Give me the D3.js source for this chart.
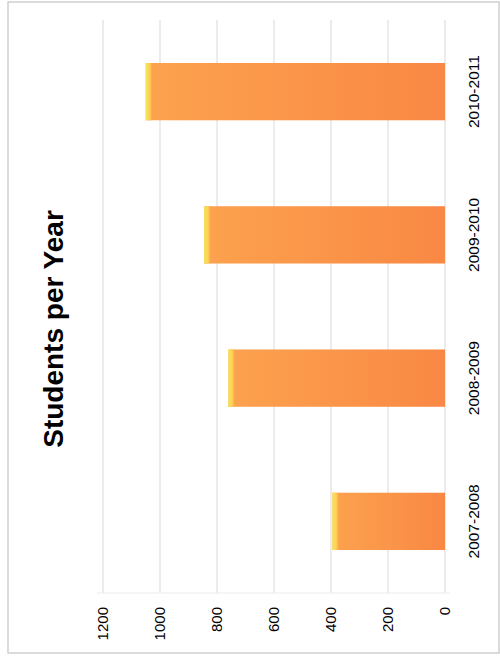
<!DOCTYPE html>
<html>
<head>
<meta charset="utf-8">
<script src="https://cdn.jsdelivr.net/npm/d3@7"></script>
<style>
  body { margin: 0; background: #fff; }
  svg { display: block; }
  text { font-family: "Liberation Sans", Arial, sans-serif; fill: #000; }
</style>
</head>
<body>
<svg id="chart" width="500" height="659"></svg>
<script>
var categories = ["2007-2008", "2008-2009", "2009-2010", "2010-2011"];
var students = [395, 760, 845, 1050];
var tickValues = [0, 200, 400, 600, 800, 1000, 1200];

var svg = d3.select("#chart");

// outer frame of the scanned chart
svg.append("rect")
    .attr("x", 8).attr("y", 2)
    .attr("width", 491).attr("height", 651)
    .attr("fill", "none")
    .attr("stroke", "#cfcfcf")
    .attr("stroke-width", 1.5);

// value axis runs right -> left (chart is rotated)
var x = d3.scaleLinear().domain([0, 1200]).range([445, 103]);
var y = d3.scaleBand().domain(categories).range([593, 20])
    .paddingInner(0.6).paddingOuter(0.3);

var defs = svg.append("defs");
var grad = defs.append("linearGradient").attr("id", "barGrad")
    .attr("x1", "0%").attr("x2", "100%").attr("y1", "0%").attr("y2", "0%");
grad.append("stop").attr("offset", "0%").attr("stop-color", "#fca24e");
grad.append("stop").attr("offset", "100%").attr("stop-color", "#f98844");

var tip = defs.append("linearGradient").attr("id", "tipGrad")
    .attr("x1", "0%").attr("x2", "100%");
tip.append("stop").attr("offset", "0%").attr("stop-color", "#f6e45c");
tip.append("stop").attr("offset", "60%").attr("stop-color", "#f9d452");
tip.append("stop").attr("offset", "100%").attr("stop-color", "#fcae4e");

// gridlines
svg.append("g").selectAll("line")
    .data(tickValues)
    .enter().append("line")
    .attr("x1", function(d) { return x(d); })
    .attr("x2", function(d) { return x(d); })
    .attr("y1", 20)
    .attr("y2", 593)
    .attr("stroke", "#d9d9d9")
    .attr("stroke-width", 1);

svg.append("line")
    .attr("x1", 97).attr("x2", 450)
    .attr("y1", 593).attr("y2", 593)
    .attr("stroke", "#ececec");

// bars
var bars = svg.append("g").selectAll("g")
    .data(students)
    .enter().append("g");

bars.append("rect")
    .attr("x", function(d) { return x(d); })
    .attr("y", function(d, i) { return y(categories[i]); })
    .attr("width", function(d) { return x(0) - x(d); })
    .attr("height", y.bandwidth())
    .attr("fill", "url(#barGrad)");

bars.append("rect")
    .attr("x", function(d) { return x(d); })
    .attr("y", function(d, i) { return y(categories[i]); })
    .attr("width", 6)
    .attr("height", y.bandwidth())
    .attr("fill", "url(#tipGrad)");

// value tick labels
svg.append("g").selectAll("text")
    .data(tickValues)
    .enter().append("text")
    .attr("transform", function(d) { return "translate(" + x(d) + ",607) rotate(-90)"; })
    .attr("text-anchor", "end")
    .attr("dy", "0.35em")
    .style("font-size", "15px")
    .text(function(d) { return d; });

// category labels
svg.append("g").selectAll("text")
    .data(categories)
    .enter().append("text")
    .attr("transform", function(d) {
        return "translate(474," + (y(d) + y.bandwidth() / 2) + ") rotate(-90)";
    })
    .attr("text-anchor", "middle")
    .attr("dy", "0.35em")
    .style("font-size", "15.5px")
    .text(function(d) { return d; });

// title
svg.append("text")
    .attr("transform", "translate(63,329) rotate(-90)")
    .attr("text-anchor", "middle")
    .style("font-size", "28px")
    .style("font-weight", "bold")
    .text("Students per Year");
</script>
</body>
</html>
